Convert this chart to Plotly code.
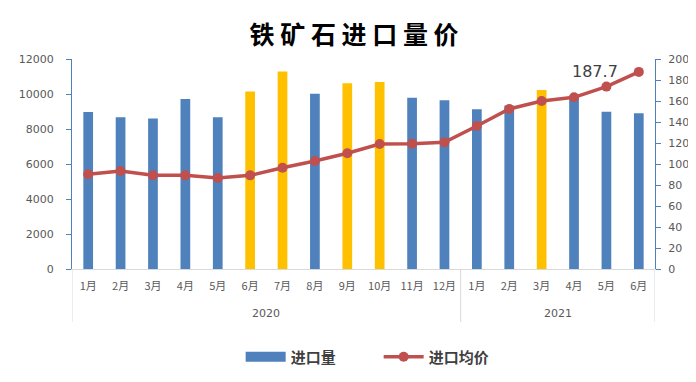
import plotly.graph_objects as go

years = ["2020"] * 12 + ["2021"] * 6
months = ["1月", "2月", "3月", "4月", "5月", "6月", "7月", "8月", "9月", "10月", "11月", "12月",
          "1月", "2月", "3月", "4月", "5月", "6月"]
volume = [8970, 8670, 8600, 9720, 8670, 10150, 11280, 10020, 10610, 10690, 9790, 9650,
          9130, 9350, 10230, 9800, 8980, 8900]
highlight = [False, False, False, False, False, True, True, False, True, True, False, False,
             False, False, True, False, False, False]
price = [90.2, 93.3, 89.2, 89.2, 86.7, 89.2, 96.5, 102.9, 110.2, 119.0, 119.4, 120.6,
         136.2, 152.4, 160.0, 163.5, 173.7, 187.7]
left_ticks = [0, 2000, 4000, 6000, 8000, 10000, 12000]
right_ticks = list(range(0, 201, 20))

BLUE = "#4F81BD"
GOLD = "#FFC000"
RED = "#C0504D"
TICK_COLOR = "#595959"
DIV_COLOR = "#D9D9D9"
NUM_FONT = "DejaVu Sans, Verdana, sans-serif"
CJK_FONT = "Noto Sans CJK SC, sans-serif"

idx = list(range(len(months)))
bar_colors = [GOLD if h else BLUE for h in highlight]

fig = go.Figure()

fig.add_trace(go.Bar(
    x=idx, y=volume, name="进口量", yaxis="y",
    marker=dict(color=bar_colors, line=dict(width=0)),
    width=0.3, showlegend=False,
))

# legend-only proxy so the legend shows a wide blue band like the reference
fig.add_trace(go.Scatter(
    x=[None], y=[None], name="进口量", mode="lines", yaxis="y",
    line=dict(color=BLUE, width=10), hoverinfo="skip",
))

fig.add_trace(go.Scatter(
    x=idx, y=price, name="进口均价", mode="lines+markers", yaxis="y2",
    line=dict(color=RED, width=3.5),
    marker=dict(color=RED, size=10),
))

fig.add_annotation(
    x=idx[-1], y=price[-1], xref="x", yref="y2",
    text=f"{price[-1]}", showarrow=False, xshift=-44, yshift=0,
    font=dict(family=NUM_FONT, size=16, color="#404040"),
)

# year group labels and dividers (second category level)
groups = []
for i, yr in enumerate(years):
    if not groups or groups[-1][0] != yr:
        groups.append([yr, i, i])
    else:
        groups[-1][2] = i
DIV_BOTTOM = -0.252
for yr, start, end in groups:
    fig.add_annotation(
        x=(start + end) / 2, y=-0.21, xref="x", yref="paper",
        text=yr, showarrow=False, yanchor="middle",
        font=dict(family=NUM_FONT, size=11, color=TICK_COLOR),
    )
edges = [groups[0][1] - 0.5] + [g[2] + 0.5 for g in groups]
for e in edges:
    fig.add_shape(type="line", xref="x", yref="paper", x0=e, x1=e, y0=0, y1=DIV_BOTTOM,
                  line=dict(color=DIV_COLOR, width=1))

fig.update_layout(
    width=688, height=374,
    margin=dict(l=64, r=41, t=51, b=113, autoexpand=False),
    paper_bgcolor="white", plot_bgcolor="white",
    title=dict(text="铁 矿 石 进 口 量 价", x=0.503, xanchor="center", y=0.928, yanchor="middle",
               font=dict(family=CJK_FONT, size=25, color="#000000", weight="bold")),
    showlegend=True,
    legend=dict(orientation="h", x=0.526, xanchor="center", y=-0.419, yanchor="middle",
                font=dict(family=CJK_FONT, size=15, color="#404040", weight="bold"),
                itemwidth=40, traceorder="normal",
                entrywidth=83, entrywidthmode="pixels"),
    bargap=0.7,
    xaxis=dict(
        range=[-0.5, len(idx) - 0.5], tickvals=idx, ticktext=months, tickangle=0,
        showline=True, linecolor=DIV_COLOR, linewidth=1, showgrid=False, zeroline=False,
        ticks="", automargin=False, ticklabelstandoff=7,
        tickfont=dict(family=CJK_FONT, size=11, color=TICK_COLOR),
    ),
    yaxis=dict(
        range=[0, 12000], tickvals=left_ticks, tickformat="d", showgrid=False, zeroline=False,
        automargin=False,
        showline=True, linecolor=BLUE, linewidth=1, ticks="outside", ticklen=5, tickcolor=BLUE,
        ticklabelstandoff=10,
        tickfont=dict(family=NUM_FONT, size=11, color=TICK_COLOR),
    ),
    yaxis2=dict(
        range=[0, 200], tickvals=right_ticks, tickformat="d", showgrid=False, zeroline=False,
        overlaying="y", side="right", automargin=False,
        showline=True, linecolor=BLUE, linewidth=1, ticks="outside", ticklen=5, tickcolor=BLUE,
        ticklabelstandoff=5,
        tickfont=dict(family=NUM_FONT, size=11, color=TICK_COLOR),
    ),
)

fig.write_html("out.html")
